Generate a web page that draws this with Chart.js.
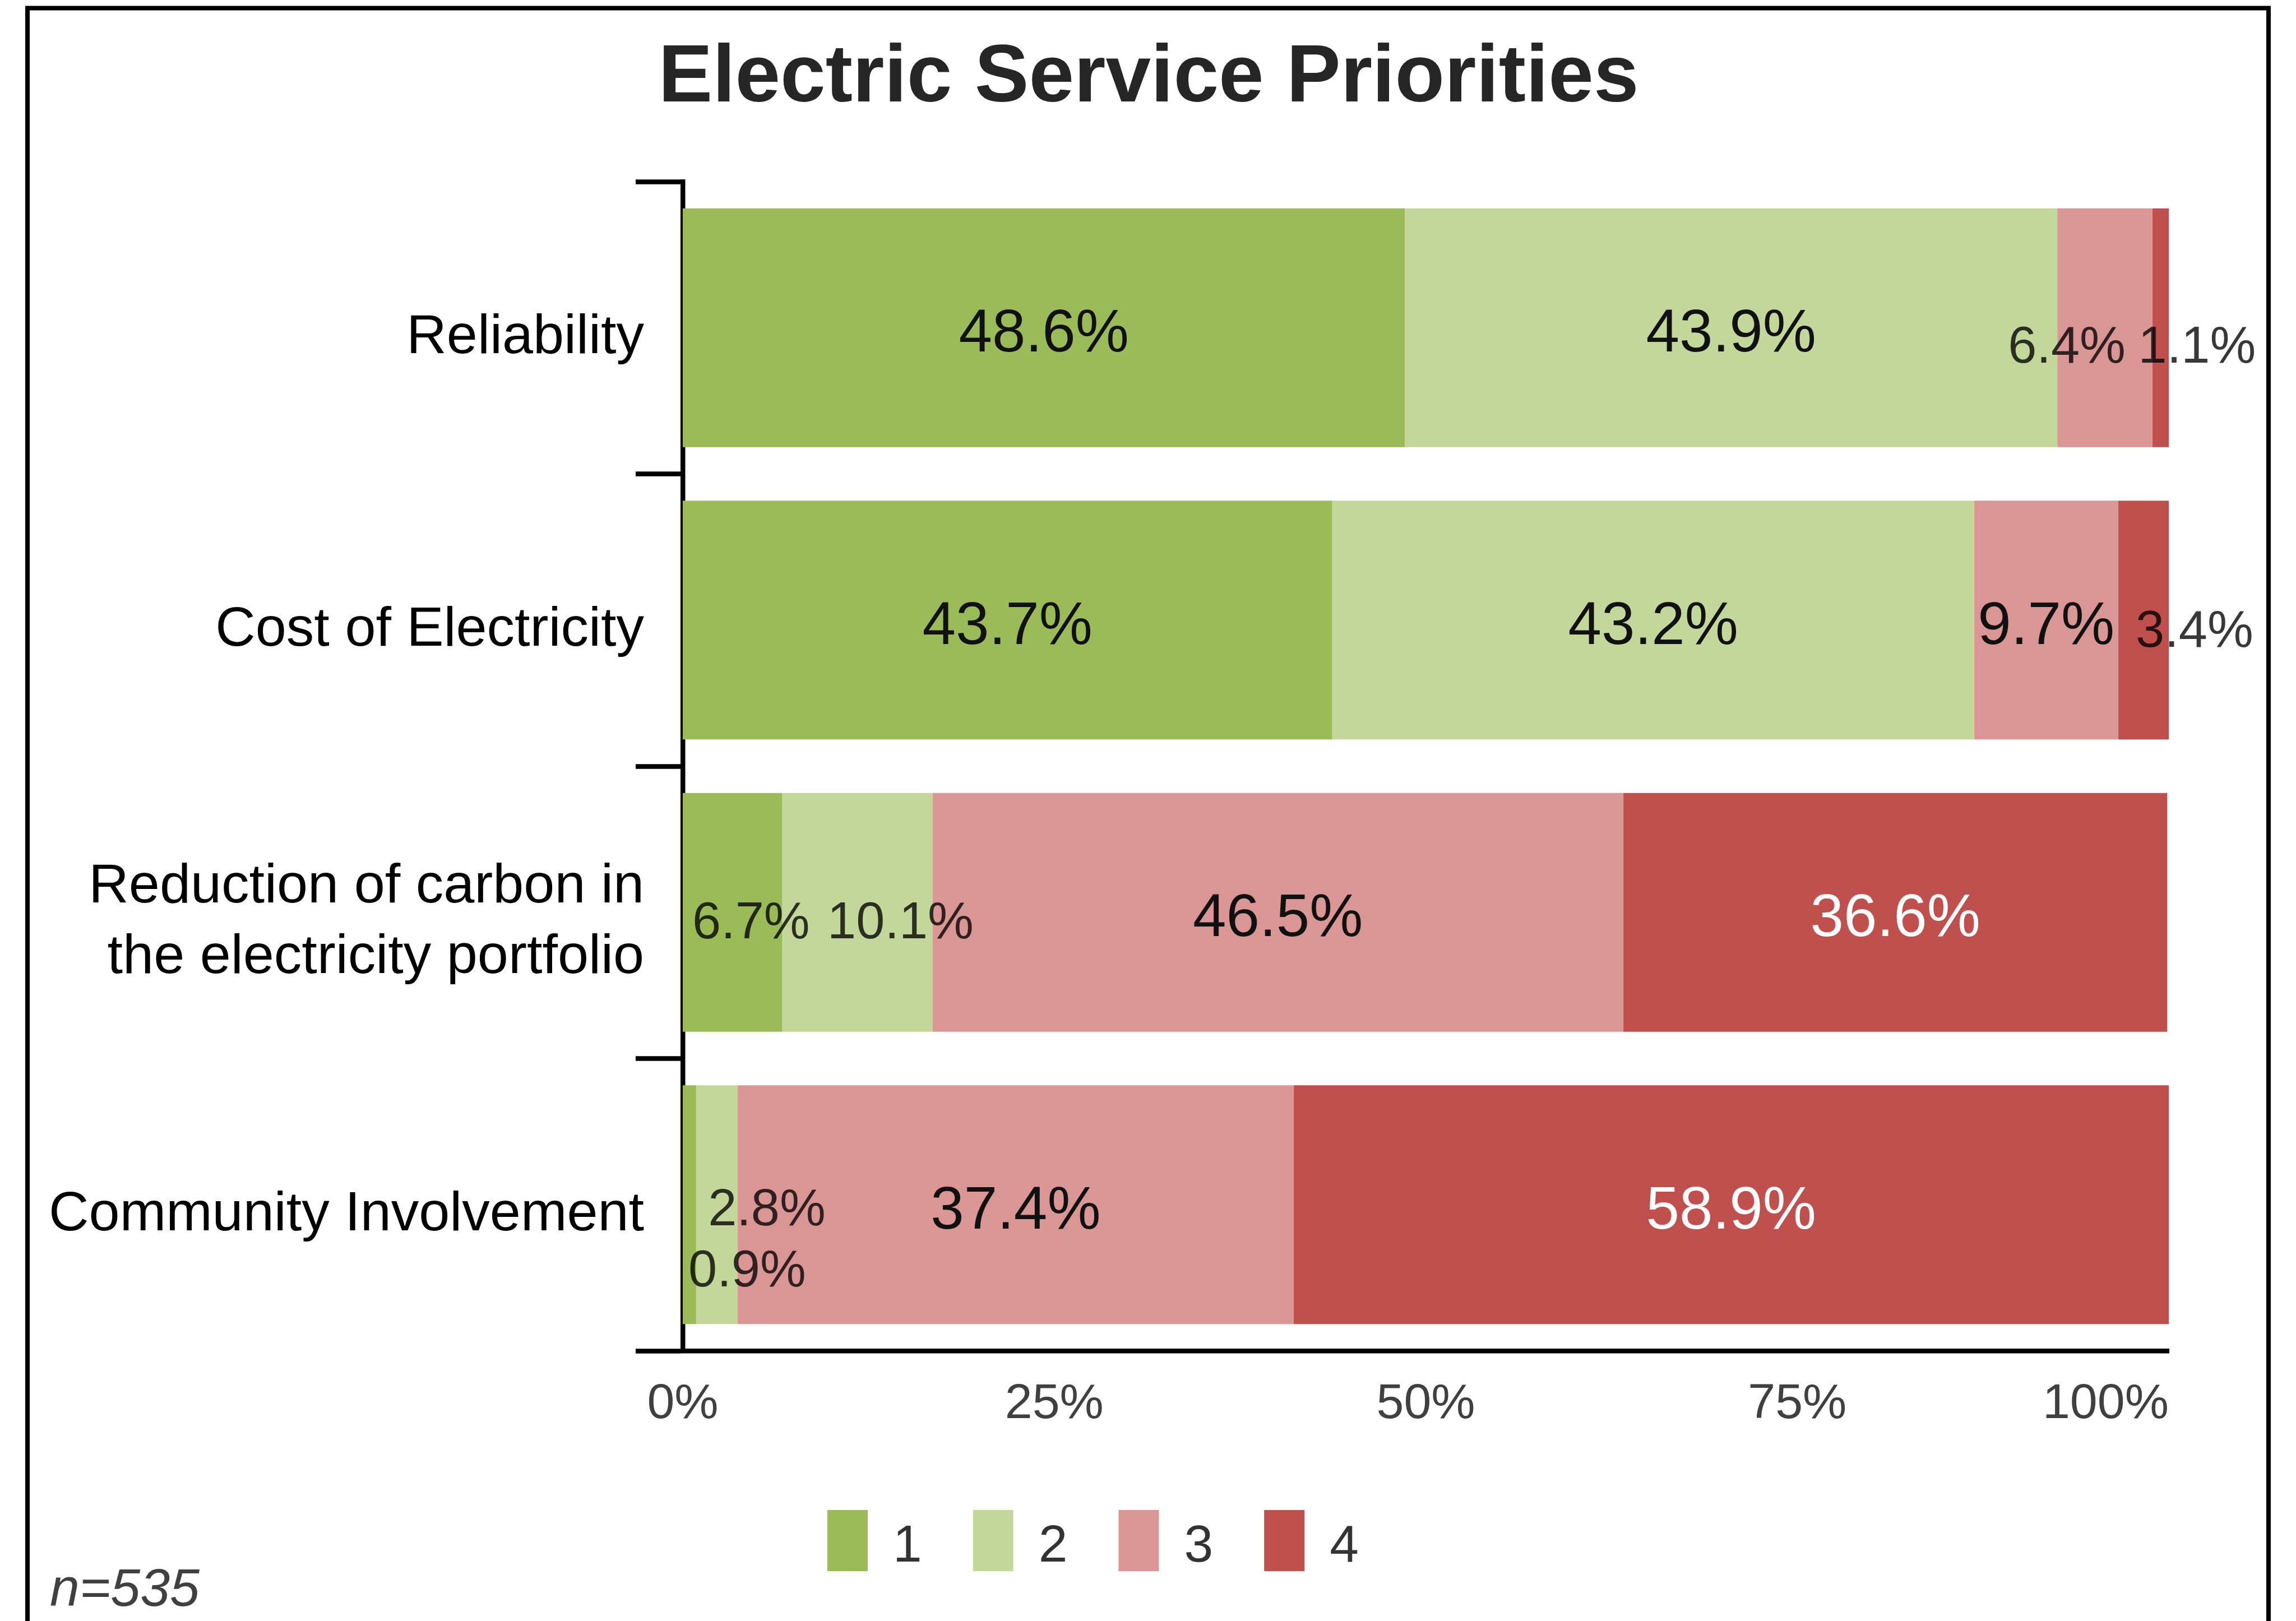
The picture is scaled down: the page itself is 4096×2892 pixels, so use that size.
<!DOCTYPE html>
<html>
<head>
<meta charset="utf-8">
<title>Electric Service Priorities</title>
<script src="https://cdn.jsdelivr.net/npm/chart.js@4.4.1/dist/chart.umd.min.js"></script>
<style>
  html, body { margin: 0; padding: 0; background: #fff; }
  canvas { display: block; }
</style>
</head>
<body>
<canvas id="priorityChart" width="4096" height="2892"></canvas>
<script>
// survey items, top to bottom
const priorities = ['Reliability', 'Cost of Electricity', ['Reduction of carbon in', 'the electricity portfolio'], 'Community Involvement'];

// share of respondents giving each rank (percent)
const rank1 = [48.6, 43.7, 6.7, 0.9];
const rank2 = [43.9, 43.2, 10.1, 2.8];
const rank3 = [6.4, 9.7, 46.5, 37.4];
const rank4 = [1.1, 3.4, 36.6, 58.9];
const rankNames = ['1', '2', '3', '4'];

const xTicks = [0, 25, 50, 75, 100];
const chartTitle = 'Electric Service Priorities';
const sampleNote = 'n=535';

const FONT = "'Liberation Sans', Arial, sans-serif";
const rankColors = ['#9BBB59', '#C4D79B', '#D99694', '#C0504D'];

// labels too wide for their segment get the small size and are pushed aside
const BIG = 107, SMALL = 92;
const labelShift = {
  '0-2': [-68, 24], '0-3': [65, 24],
  '1-3': [91, 9],
  '2-0': [33, 8], '2-1': [77, 8],
  '3-0': [103, 107], '3-1': [89, -2]
};

const segmentLabels = {
  id: 'segmentLabels',
  afterDatasetsDraw(chart) {
    const ctx = chart.ctx;
    ctx.save();
    ctx.textAlign = 'center';
    ctx.textBaseline = 'middle';
    chart.data.datasets.forEach((ds, di) => {
      chart.getDatasetMeta(di).data.forEach((bar, row) => {
        const text = ds.data[row].toFixed(1) + '%';
        const room = Math.abs(bar.x - bar.base);
        ctx.font = BIG + 'px ' + FONT;
        const fits = ctx.measureText(text).width <= room;
        if (!fits) ctx.font = SMALL + 'px ' + FONT;
        ctx.fillStyle = fits ? (di === 3 ? '#ffffff' : '#111111') : 'rgba(0,0,0,0.78)';
        const [dx, dy] = labelShift[row + '-' + di] || [0, 0];
        ctx.fillText(text, (bar.x + bar.base) / 2 + dx, bar.y + 13 + dy);
      });
    });
    ctx.restore();
  }
};

// title, x tick labels (last one kept inside the plot), frame, legend, note
const decorations = {
  id: 'decorations',
  afterDraw(chart) {
    const ctx = chart.ctx;
    const area = chart.chartArea;
    ctx.save();

    ctx.font = 'bold 145px ' + FONT;
    ctx.fillStyle = '#262626';
    ctx.textAlign = 'center';
    ctx.textBaseline = 'alphabetic';
    ctx.fillText(chartTitle, 2049, 181);

    const xs = chart.scales.x;
    ctx.font = '88px ' + FONT;
    ctx.fillStyle = '#404040';
    xTicks.forEach(v => {
      const text = v + '%';
      const w = ctx.measureText(text).width;
      const x = Math.min(xs.getPixelForValue(v), area.right - w / 2);
      ctx.fillText(text, x, 2530);
    });

    ctx.strokeStyle = '#000';
    ctx.lineWidth = 8;
    ctx.strokeRect(49, 14.5, 3998, 3000);

    const boxW = 72, boxH = 109, gap = 45, itemPad = 91;
    let x = 1476;
    const top = 2694;
    ctx.font = '93px ' + FONT;
    ctx.textAlign = 'left';
    ctx.textBaseline = 'middle';
    chart.data.datasets.forEach(ds => {
      ctx.fillStyle = ds.backgroundColor;
      ctx.fillRect(x, top, boxW, boxH);
      ctx.fillStyle = '#333';
      ctx.fillText(ds.label, x + boxW + gap, top + boxH / 2 + 12);
      x += boxW + gap + ctx.measureText(ds.label).width + itemPad;
    });

    ctx.font = 'italic 95px ' + FONT;
    ctx.fillStyle = '#404040';
    ctx.textBaseline = 'alphabetic';
    ctx.fillText(sampleNote, 89, 2865);
    ctx.restore();
  }
};

const ranks = [rank1, rank2, rank3, rank4];

new Chart(document.getElementById('priorityChart'), {
  type: 'bar',
  data: {
    labels: priorities,
    datasets: ranks.map((values, i) => ({
      label: rankNames[i],
      data: values,
      backgroundColor: rankColors[i],
      borderWidth: 0,
      barPercentage: 0.817,
      categoryPercentage: 1
    }))
  },
  options: {
    indexAxis: 'y',
    responsive: false,
    devicePixelRatio: 1,
    animation: false,
    events: [],
    layout: { padding: { top: 324, left: 60, right: 227, bottom: 0 } },
    plugins: {
      legend: { display: false },
      tooltip: { enabled: false },
      title: { display: false }
    },
    scales: {
      y: {
        type: 'category',
        position: 'left',
        stacked: true,
        offset: true,
        z: 1,
        grid: {
          display: true,
          offset: true,
          drawOnChartArea: false,
          drawTicks: true,
          tickLength: 84,
          tickWidth: 8.5,
          tickColor: '#000'
        },
        border: { display: true, color: '#000', width: 8.5 },
        ticks: {
          color: '#000',
          padding: -15,
          labelOffset: 18,
          font: { family: FONT, size: 99, lineHeight: 1.27 }
        },
        afterFit(scale) {
          scale.width = 1158;
          scale.paddingTop = 0;
          scale.paddingBottom = 0;
        }
      },
      x: {
        type: 'linear',
        position: 'bottom',
        stacked: true,
        min: 0,
        max: 100,
        z: 1,
        grid: { display: false, drawTicks: false },
        border: { display: true, color: '#000', width: 8.5 },
        ticks: { display: false },
        afterBuildTicks(scale) {
          scale.ticks = xTicks.map(v => ({ value: v }));
        },
        afterFit(scale) {
          scale.height = 482;
          scale.paddingLeft = 0;
          scale.paddingRight = 0;
        }
      }
    }
  },
  plugins: [segmentLabels, decorations]
});
</script>
</body>
</html>
